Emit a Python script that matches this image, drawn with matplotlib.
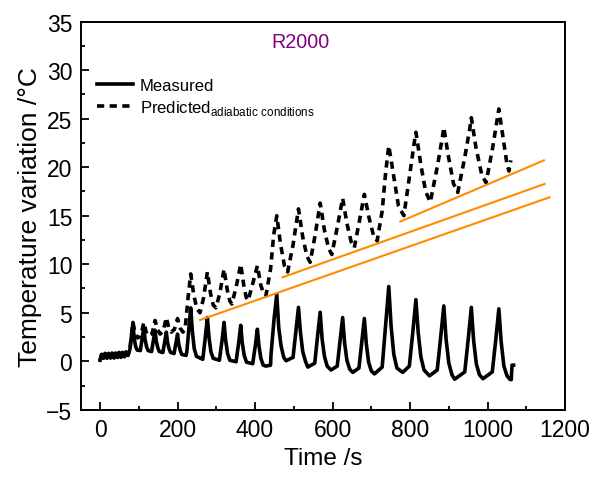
import numpy as np
import matplotlib
matplotlib.use('Agg')
import matplotlib.pyplot as plt
from matplotlib.ticker import MultipleLocator

plt.rcParams['font.family'] = ['Liberation Sans', 'DejaVu Sans']
plt.rcParams['mathtext.fontset'] = 'custom'
plt.rcParams['mathtext.rm'] = 'Liberation Sans'

# Measured temperature variation
t_meas = [0, 4, 9, 13, 18, 22, 27, 31, 36, 40, 45, 49, 54, 58, 63, 67, 72,
          77, 81, 85, 88, 92, 96, 104,
          109, 113, 116, 120, 124, 133,
          138, 142, 145, 149, 153, 162,
          167, 171, 174, 178, 182, 191,
          196, 200, 203, 207, 211, 222,
          224, 229, 234, 238, 243, 249, 265,
          266, 272, 277, 281, 286, 292, 308,
          309, 315, 320, 324, 329, 335, 351,
          352, 358, 363, 367, 372, 378, 394,
          395, 401, 406, 410, 415, 421, 428, 440,
          441, 449, 456, 461, 467, 474, 480,
          498, 505, 512, 517, 523, 530, 536,
          554, 561, 568, 573, 579, 586, 596,
          612, 619, 626, 631, 637, 644, 652,
          668, 675, 682, 687, 693, 700, 708,
          728, 737, 745, 751, 758, 766, 781,
          798, 807, 815, 821, 828, 836, 850,
          870, 879, 887, 893, 900, 908, 915,
          941, 950, 958, 964, 971, 979, 988,
          1012, 1021, 1029, 1035, 1042, 1050, 1057, 1061, 1063, 1067]
T_meas = [0.1, 0.7, 0.3, 0.8, 0.3, 0.8, 0.35, 0.85, 0.35, 0.85, 0.4, 0.9,
          0.4, 0.9, 0.45, 0.95, 0.6,
          1.2, 2.6, 4.0, 2.4, 1.5, 1.15, 1.1,
          2.4, 3.5, 2.3, 1.5, 1.1, 1.0,
          2.2, 3.2, 2.1, 1.4, 1.0, 0.9,
          2.0, 3.0, 2.0, 1.3, 0.9, 0.8,
          1.9, 2.8, 1.8, 1.1, 0.7, 0.6,
          1.0, 3.3, 5.5, 3.2, 1.3, 0.5, 0.2,
          0.5, 2.6, 4.5, 2.5, 1.0, 0.3, 0.1,
          0.4, 2.2, 4.0, 2.2, 0.8, 0.1, -0.05,
          0.25, 2.0, 3.7, 1.9, 0.6, -0.1, -0.25,
          0.05, 1.7, 3.3, 1.6, 0.3, -0.4, -0.5, -0.4,
          0.6, 4.35, 6.9, 3.5, 1.6, 0.4, 0.05,
          0.4, 3.0, 5.55, 3.0, 1.0, 0.0, -0.6,
          -0.2, 2.5, 5.05, 2.3, 0.5, -0.5, -0.9,
          -0.5, 2.0, 4.5, 1.9, 0.1, -0.8, -1.15,
          -0.7, 1.9, 4.4, 1.8, -0.1, -1.0, -1.3,
          -0.6, 3.8, 7.7, 3.6, 0.7, -0.7, -1.15,
          -0.5, 3.0, 6.35, 2.9, 0.4, -0.9, -1.5,
          -0.9, 2.5, 5.7, 2.2, -0.2, -1.4, -1.85,
          -1.1, 2.3, 5.55, 2.1, -0.3, -1.4, -1.8,
          -1.1, 2.2, 5.4, 2.0, -0.5, -1.5, -1.85, -1.9, -0.4, -0.4]

# Predicted (adiabatic conditions)
t_pred = [0, 4, 9, 13, 18, 22, 27, 31, 36, 40, 45, 49, 54, 58, 63, 67, 72, 77,
          81, 85, 90, 97, 105, 113, 119, 126, 134, 142, 148, 155, 163, 171, 177,
          184, 192, 200, 207, 214, 220, 227, 234, 242, 250, 258, 267, 277, 285,
          292, 299, 309, 320, 328, 335, 340, 351, 363, 371, 377, 382, 394, 406,
          415, 422, 428, 440, 448, 456, 466, 476, 484, 498, 512, 523, 534, 542,
          555, 568, 579, 590, 598, 612, 626, 637, 648, 656, 669, 682, 694, 706,
          715, 728, 737, 745, 756, 770, 784, 800, 811, 815, 828, 840, 852, 870,
          883, 887, 898, 912, 923, 941, 954, 958, 970, 985, 996, 1013, 1025,
          1029, 1040, 1050, 1055, 1060]
T_pred = [0.1, 0.7, 0.3, 0.8, 0.3, 0.8, 0.35, 0.85, 0.35, 0.85, 0.4, 0.9, 0.4,
          0.9, 0.45, 0.95, 0.6, 1.2,
          2.6, 4.0, 3.0, 2.4, 2.6, 4.0, 3.0, 2.6, 2.8, 4.2, 3.3, 2.8, 3.1, 4.5,
          3.5, 3.0, 3.3, 4.4, 3.4, 3.0, 3.5, 6.5, 9.0, 6.8, 5.4, 5.0, 6.5, 9.2,
          7.0, 5.8, 5.5, 7.0, 9.5, 7.4, 6.2, 5.9, 7.6, 10.0, 7.8, 6.6, 6.25, 8.0,
          9.85, 7.8, 7.0, 6.75, 9.5, 13.0, 15.0, 12.0, 9.8, 9.2, 12.0, 15.7,
          12.8, 10.8, 10.2, 13.0, 16.3, 13.5, 11.6, 11.0, 13.8, 16.8, 14.2, 12.3,
          11.7, 14.4, 17.2, 14.8, 12.9, 12.4, 15.5, 19.5, 22.2, 19.5, 16.0, 15.0,
          19.5, 22.6, 23.6, 20.2, 17.5, 16.4, 20.0, 23.0, 24.1, 21.3, 18.3, 17.4,
          21.0, 24.0, 25.1, 22.0, 19.2, 18.4, 22.0, 25.0, 26.0, 23.0, 20.3, 19.6,
          20.7]

# Orange trend lines (start / end)
trend_t = [[775, 1145], [471, 1147], [258, 1160]]
trend_T = [[14.4, 20.7], [8.65, 18.27], [4.25, 16.9]]

fig = plt.figure(figsize=(5.93, 4.81), dpi=100)
ax = fig.add_axes([0.136, 0.146, 0.817, 0.807])

ax.plot(t_meas, T_meas, color='black', lw=2.6, label='Measured',
        solid_joinstyle='round')
ax.plot(t_pred, T_pred, color='black', lw=2.6, ls=(0, (2.0, 1.5)),
        label=r'Predicted$_{\mathregular{adiabatic\ conditions}}$')
for tt, TT in zip(trend_t, trend_T):
    ax.plot(tt, TT, color='#ff8c00', lw=1.5)

ax.text(516, 33.0, 'R2000', color='#800080', fontsize=14.2, ha='center', va='center')

ax.set_xlim(-50, 1200)
ax.set_ylim(-5, 35)
ax.xaxis.set_major_locator(MultipleLocator(200))
ax.xaxis.set_minor_locator(MultipleLocator(100))
ax.yaxis.set_major_locator(MultipleLocator(5))
ax.yaxis.set_minor_locator(MultipleLocator(2.5))
ax.tick_params(which='both', direction='in', top=False, right=False, width=1.3)
ax.tick_params(which='major', length=5.5, labelsize=16.5, pad=6)
ax.tick_params(which='minor', length=3)
for s in ax.spines.values():
    s.set_linewidth(1.4)

ax.set_xlabel('Time /s', fontsize=17.5, labelpad=4)
ax.set_ylabel('Temperature variation /\u00b0C', fontsize=19, labelpad=3)

leg = ax.legend(loc='upper left', bbox_to_anchor=(0.003, 0.893), frameon=False,
                fontsize=12, handlelength=2.15, handletextpad=0.42,
                labelspacing=0.3)

fig.savefig('out.png', dpi=100)
